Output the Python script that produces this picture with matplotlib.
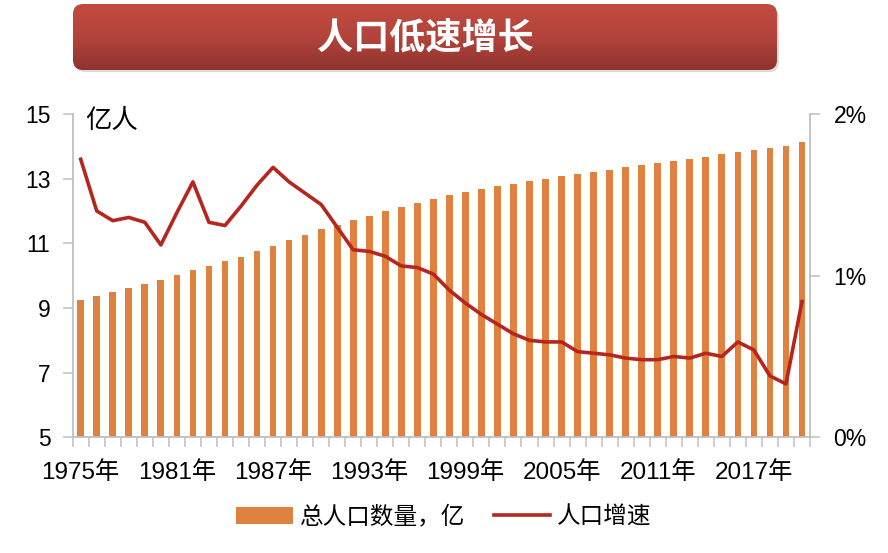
import numpy as np
import matplotlib
matplotlib.use("Agg")
import matplotlib.pyplot as plt
from matplotlib.patches import FancyBboxPatch, Patch
from matplotlib.lines import Line2D
from matplotlib.colors import LinearSegmentedColormap
from matplotlib.ticker import FuncFormatter

FONTS = ["Liberation Sans", "Noto Sans CJK SC", "DejaVu Sans"]
CJK = ["Noto Sans CJK SC", "DejaVu Sans"]
plt.rcParams["font.family"] = FONTS

BAR_C = "#E0823F"
LINE_C = "#B5261E"
AXIS_C = "#BFBFBF"

# ---- data ------------------------------------------------------------------
years = list(range(1975, 2021))
population = [9.24, 9.37, 9.50, 9.63, 9.75, 9.87, 10.01, 10.17, 10.30, 10.44,
              10.59, 10.75, 10.93, 11.10, 11.27, 11.43, 11.58, 11.72, 11.85, 11.99,
              12.11, 12.24, 12.36, 12.48, 12.58, 12.67, 12.76, 12.85, 12.92, 13.00,
              13.08, 13.14, 13.21, 13.28, 13.35, 13.41, 13.47, 13.54, 13.61, 13.68,
              13.75, 13.83, 13.90, 13.95, 14.00, 14.12]
growth_pct = [1.72, 1.40, 1.34, 1.36, 1.33, 1.19, 1.39, 1.58, 1.33, 1.31,
              1.43, 1.56, 1.67, 1.58, 1.51, 1.44, 1.30, 1.16, 1.15, 1.12,
              1.06, 1.05, 1.01, 0.91, 0.83, 0.76, 0.70, 0.64, 0.60, 0.59,
              0.59, 0.53, 0.52, 0.51, 0.49, 0.48, 0.48, 0.50, 0.49, 0.52,
              0.50, 0.59, 0.54, 0.38, 0.33, 0.84]
label_years = [1975, 1981, 1987, 1993, 1999, 2005, 2011, 2017]

W, H = 888, 553
fig = plt.figure(figsize=(W / 100, H / 100), dpi=100)

# ---- title banner ----------------------------------------------------------
axb = fig.add_axes([66 / W, 1 - 78 / H, 720 / W, 78 / H])
axb.set_xlim(66, 786)
axb.set_ylim(H - 78, H)
axb.axis("off")
shadow = FancyBboxPatch((75, H - 72), 704, 64, boxstyle="round,pad=0,rounding_size=10",
                        fc="#999999", ec="none", alpha=0.35, zorder=1)
axb.add_patch(shadow)
box = FancyBboxPatch((73, H - 70), 704, 66, boxstyle="round,pad=0,rounding_size=10",
                     fc="none", ec="none", zorder=3)
axb.add_patch(box)
cmap = LinearSegmentedColormap.from_list("banner", ["#8F332E", "#B2443B", "#C24B41"])
grad = np.linspace(0, 1, 100).reshape(-1, 1)
im = axb.imshow(grad, cmap=cmap, origin="lower", aspect="auto", zorder=2,
                extent=(73, 777, H - 70, H - 4))
im.set_clip_path(box)
axb.text(425, H - 38, "人口低速增长", color="white", fontsize=26, fontweight="bold",
         family=CJK, ha="center", va="center", zorder=4)

# ---- main chart ------------------------------------------------------------
ax = fig.add_axes([72.7 / W, 1 - 437.3 / H, (810 - 72.7) / W, (437.3 - 114) / H])
x = np.arange(len(years))
ax.bar(x, population, width=0.42, color=BAR_C, zorder=2)
ax.set_xlim(-0.5, len(years) - 0.5)
ax.set_ylim(5, 15)
ax.set_yticks([5, 7, 9, 11, 13, 15])

ax.set_xticks([years.index(y) for y in label_years])
ax.set_xticklabels([f"{y}年" for y in label_years])
ax.set_xticks(np.arange(-0.5, len(years), 1), minor=True)
ax.tick_params(axis="x", which="major", length=0, pad=17, labelsize=17.5)
ax.tick_params(axis="x", which="minor", length=7, width=1.1, color=AXIS_C)
ax.tick_params(axis="y", length=7, width=1.1, color=AXIS_C, pad=9, labelsize=16.5)

for s in ["top", "right"]:
    ax.spines[s].set_visible(False)
for s in ["left", "bottom"]:
    ax.spines[s].set_color(AXIS_C)
    ax.spines[s].set_linewidth(1.3)

ax2 = ax.twinx()
ax2.plot(x, np.array(growth_pct) / 100, color=LINE_C, lw=2.6, solid_joinstyle="round", zorder=3)
ax2.set_ylim(0, 0.02)
ax2.set_yticks([0, 0.01, 0.02])
ax2.yaxis.set_major_formatter(FuncFormatter(lambda v, _: f"{v * 100:.0f}%"))
ax2.tick_params(axis="y", length=7, width=1.1, color=AXIS_C, pad=10, labelsize=16.5)
for s in ["top", "left", "bottom"]:
    ax2.spines[s].set_visible(False)
ax2.spines["right"].set_color(AXIS_C)
ax2.spines["right"].set_linewidth(1.3)

fig.text(85 / W, 1 - 121 / H, "亿人", fontsize=19, family=CJK, va="center", ha="left")

# ---- legend ----------------------------------------------------------------
handles = [Patch(facecolor=BAR_C, edgecolor="none"),
           Line2D([0], [0], color=LINE_C, lw=2.6)]
fig.legend(handles, ["总人口数量，亿", "人口增速"], loc="center",
           bbox_to_anchor=(444 / W, 1 - 517 / H), ncol=2, frameon=False,
           prop={"family": CJK, "size": 17}, handlelength=2.4, handleheight=0.7,
           handletextpad=0.3, columnspacing=1.2)

fig.savefig("out.png", dpi=100)
